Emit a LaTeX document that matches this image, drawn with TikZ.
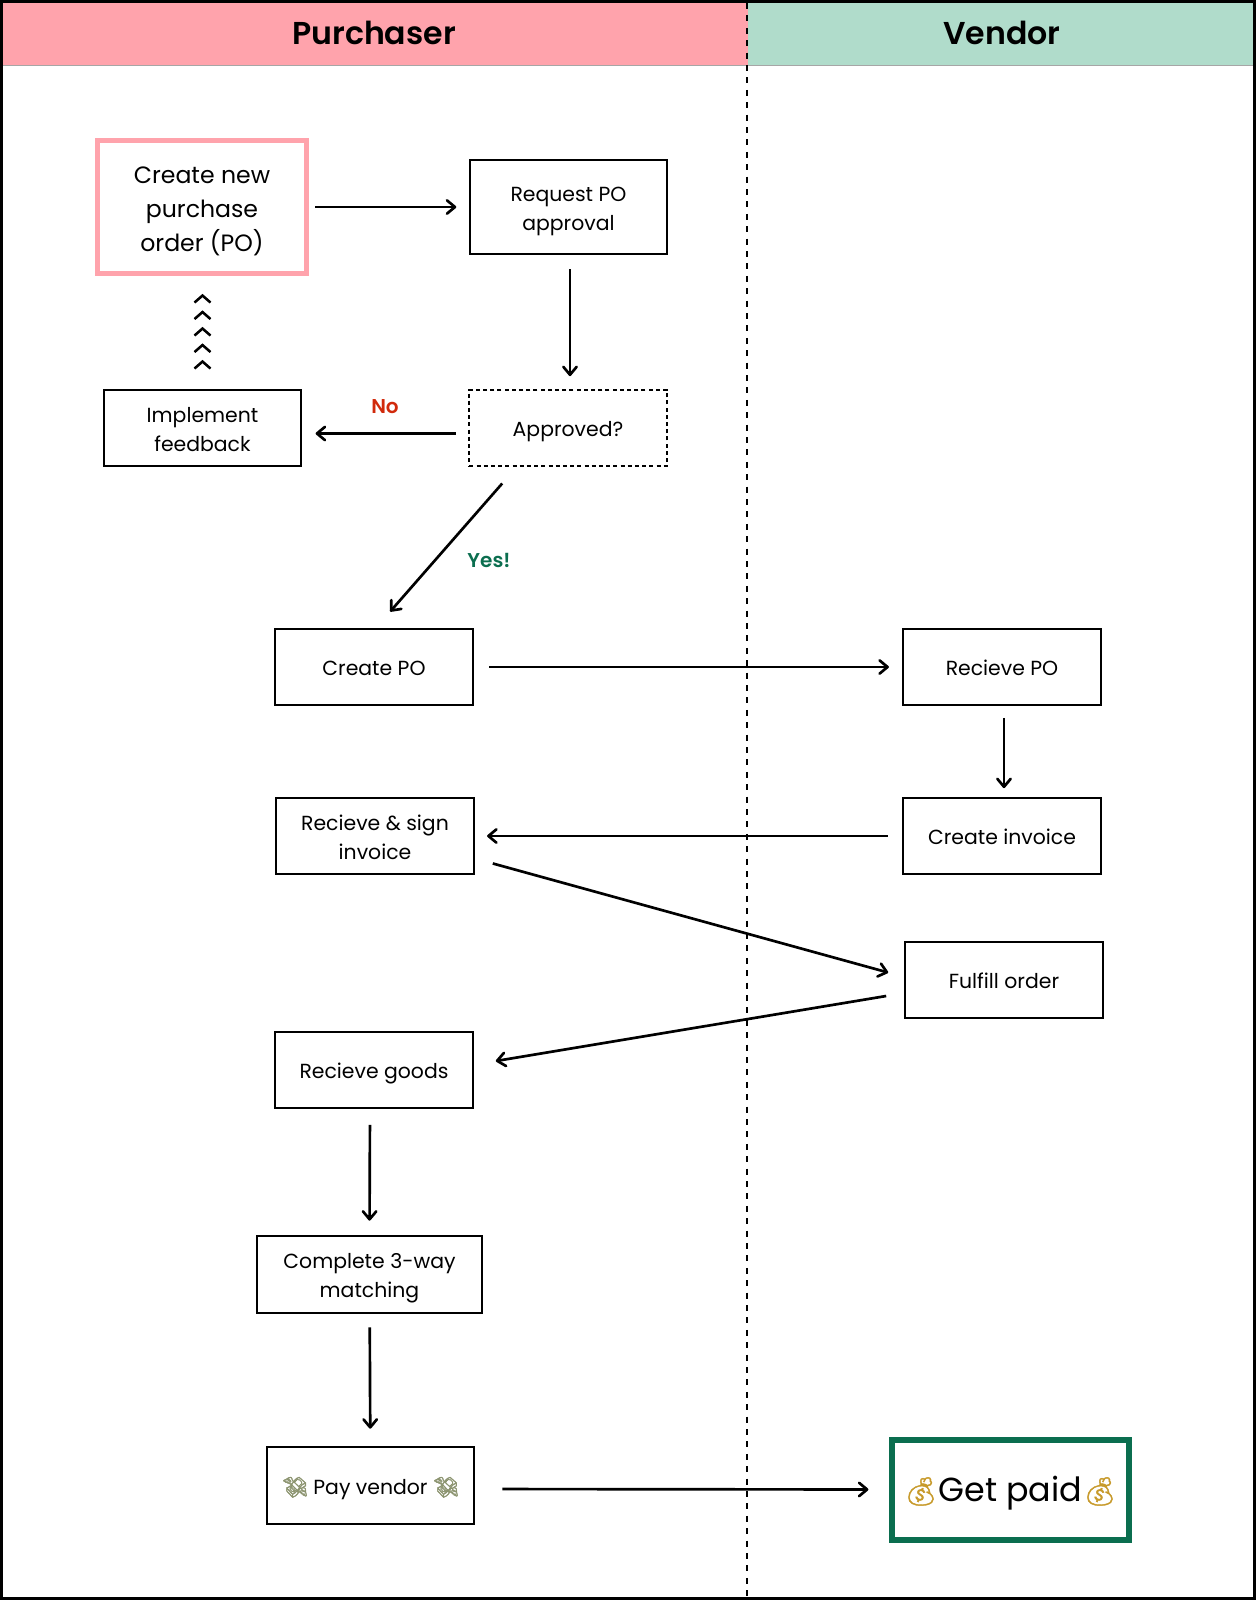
\documentclass[tikz,border=0pt]{standalone}
\usepackage{fontspec}
\usepackage{xcolor}
\setmainfont{Poppins}[BoldFont={Poppins SemiBold}]
\newfontfamily\emojifont{Noto Emoji}[FakeBold=1.5]
\usetikzlibrary{arrows.meta,calc}
\definecolor{pinkbar}{HTML}{FFA3AC}
\definecolor{greenbar}{HTML}{B0DCCB}
\definecolor{paidgreen}{HTML}{0B6E4F}
\definecolor{noRed}{HTML}{D12A0C}
\definecolor{wingGray}{HTML}{8C9470}
\definecolor{bagGold}{HTML}{C79A2B}
\newcommand{\wings}{{\emojifont\textcolor{wingGray}{💸}}}
\newcommand{\bag}{{\fontsize{21}{21}\emojifont\textcolor{bagGold}{💰}}}

\begin{document}
\begin{tikzpicture}[
    x=0.75pt, y=-0.75pt, >={Straight Barb[length=6pt,width=10pt,round]},
    box/.style={draw, line width=1.7pt, align=center, inner sep=0pt, font=\fontsize{15.3}{21.8}\selectfont,
        minimum width=148pt, minimum height=57.5pt,
        execute at begin node={\rule{0pt}{1.13em}}, execute at end node={\rule[-0.27em]{0pt}{0.27em}}},
    tall/.style={execute at begin node={\rule{0pt}{2.55em}}},
    taller/.style={execute at begin node={\rule{0pt}{4.01em}}},
    link/.style={->, line width=2pt},
    note/.style={font=\fontsize{15}{18}\selectfont\bfseries},
    head/.style={font=\fontsize{23.7}{28}\selectfont\bfseries}
]

% canvas size
\path[use as bounding box] (0,0) rectangle (1256,1600);

% header bars
\fill[pinkbar] (0,0) rectangle (747.5,65);
\fill[greenbar] (747.5,0) rectangle (1256,65);
\draw[gray!70,line width=0.5pt] (0,65.5) -- (1256,65.5);
\node[head] (purchaser) at (374,33) {Purchaser};
\node[head] (vendor) at (1002,33) {Vendor};

% lane divider
\draw[line width=1.7pt, dash pattern=on 4.5pt off 4.8pt] (747,3) -- (747,1597);

% purchaser side
\node[box, taller, draw=pinkbar, line width=3.75pt, minimum width=157pt, minimum height=100pt,
      font=\fontsize{17.7}{25.5}\selectfont] (newpo) at (202,207) {Create new\\purchase\\order (PO)};
\node[box, tall, minimum height=70pt] (request) at (568.5,207) {Request PO\\approval};
\node[box, dash pattern=on 3pt off 2.4pt] (approved) at (568,428) {Approved?};
\node[box, tall] (feedback) at (202.5,428) {Implement\\feedback};
\node[box] (createpo) at (374,667) {Create PO};
\node[box, tall] (signinv) at (375,836) {Recieve \& sign\\invoice};
\node[box] (goods) at (374,1070) {Recieve goods};
\node[box, tall, minimum width=169pt] (matching) at (369.5,1274.5) {Complete 3-way\\matching};
\node[box, minimum width=155pt] (pay) at (370.5,1485.5) {\wings\ Pay vendor \wings};

% vendor side
\node[box] (recvpo) at (1002,667) {Recieve PO};
\node[box] (createinv) at (1002,836) {Create invoice};
\node[box] (fulfill) at (1004,980) {Fulfill order};
\node[box, draw=paidgreen, line width=4.5pt, minimum width=178pt, minimum height=75pt,
      font=\fontsize{25}{30}\selectfont, execute at end node={\rule[-0.47em]{0pt}{0.47em}}]
      (paid) at (1010.5,1490) {\bag Get paid\bag};

% connectors
\draw[link, shorten <=4.7pt, shorten >=9.3pt] (newpo) -- (request);
\draw[link, shorten <=10.8pt, shorten >=9.3pt] ([shift={(1.5,0)}]request.south) -- ([shift={(2,0)}]approved.north);
\draw[link, shorten <=9.2pt, shorten >=10pt] ([shift={(0,5.5)}]approved.west) -- ([shift={(0,5.5)}]feedback.east);
\draw[link] ([shift={(34,16)}]approved.south west) -- ([shift={(116,-16)}]createpo.north west);
\draw[link, shorten <=11.5pt, shorten >=10pt] (createpo) -- (recvpo);
\draw[link, shorten <=8.5pt, shorten >=6.3pt] ([shift={(2,0)}]recvpo.south) -- ([shift={(2,0)}]createinv.north);
\draw[link, shorten <=10.7pt, shorten >=9.2pt] (createinv) -- (signinv);
\draw[link] ([shift={(18,-12)}]signinv.south east) -- ([shift={(-16,32)}]fulfill.north west);
\draw[link] ([shift={(-18,16)}]fulfill.west) -- ([shift={(22,-9)}]goods.east);
\draw[link, shorten <=11.6pt, shorten >=10.8pt] ([shift={(-4,0)}]goods.south) -- (matching.north);
\draw[link, shorten <=10pt, shorten >=13pt] (matching) -- (pay);
\draw[link, shorten <=20.6pt, shorten >=15.3pt] ([shift={(0,3.5)}]pay.east) -- ([shift={(0,-0.5)}]paid.west);

% labels on the arrows
\node[note, noRed] (no) at (385,407) {No};
\node[note, paidgreen] (yes) at (489,560) {Yes!};

% chevrons from feedback back up to the new PO
\foreach \i in {0,...,4} {
    \draw[line width=1.9pt] ($(feedback.north)+(-8,-20-16.5*\i)$) -- ++(8,-7) -- ++(8,7);
}

% outer frame
\draw[line width=2.6pt] (1.75,1.75) rectangle (1254.25,1598.25);

\end{tikzpicture}
\end{document}
